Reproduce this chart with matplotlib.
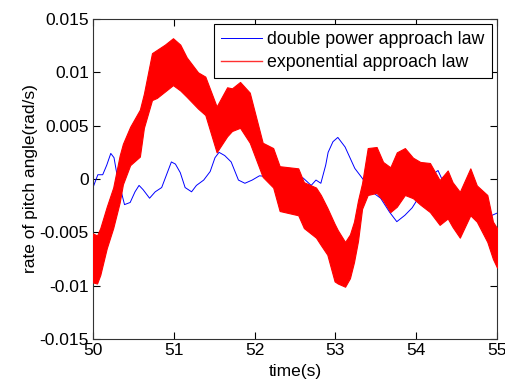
import matplotlib.pyplot as plt

plt.rcParams['font.family'] = ['Liberation Sans', 'DejaVu Sans']

# double power approach law (blue)
t_blue = [50.00, 50.06, 50.12, 50.17, 50.22, 50.26, 50.29, 50.35, 50.39, 50.46,
          50.52, 50.57, 50.62, 50.70, 50.77, 50.85, 50.91, 50.97, 51.02, 51.08,
          51.14, 51.22, 51.28, 51.37, 51.45, 51.51, 51.56, 51.63, 51.71, 51.80,
          51.88, 51.97, 52.06, 52.20, 52.40, 52.60, 52.70, 52.76, 52.82, 52.88,
          52.91, 52.97, 53.03, 53.12, 53.18, 53.24, 53.33, 53.47, 53.56, 53.67,
          53.76, 53.86, 53.95, 54.05, 54.20, 54.27, 54.33, 54.40, 54.50, 54.62,
          54.75, 54.88, 55.00]
blue = [-0.0008, 0.0004, 0.0004, 0.0013, 0.0024, 0.0020, 0.0007, -0.0012, -0.0024, -0.0022,
        -0.0012, -0.0006, -0.0010, -0.0018, -0.0012, -0.0008, 0.0004, 0.0016, 0.0014, 0.0006,
        -0.0008, -0.0012, -0.0006, -0.0001, 0.0007, 0.0020, 0.0025, 0.0022, 0.0016, -0.0001,
        -0.0004, -0.0001, 0.0003, 0.0002, -0.0001, 0.0001, -0.0006, -0.0001, -0.0004, 0.0013,
        0.0025, 0.0035, 0.0039, 0.0030, 0.0020, 0.0010, 0.0001, -0.0013, -0.0018, -0.0031,
        -0.0040, -0.0034, -0.0027, -0.0015, 0.0004, 0.0008, -0.0002, -0.0015, -0.0030, -0.0024,
        -0.0029, -0.0036, -0.0032]

# exponential approach law (red): envelope of the fast oscillation
t_red = [50.00, 50.05, 50.09, 50.17, 50.25, 50.33, 50.37, 50.46, 50.58, 50.63,
         50.73, 50.79, 50.89, 50.99, 51.08, 51.16, 51.30, 51.39, 51.53, 51.66,
         51.72, 51.82, 51.94, 52.10, 52.23, 52.31, 52.54, 52.61, 52.76, 52.82,
         52.90, 52.99, 53.03, 53.12, 53.18, 53.23, 53.28, 53.33, 53.40, 53.51,
         53.59, 53.68, 53.76, 53.86, 53.96, 54.05, 54.17, 54.29, 54.39, 54.45,
         54.54, 54.67, 54.75, 54.88, 54.95, 55.00]
red_upper = [-0.0051, -0.0053, -0.0046, -0.0026, -0.0008, 0.0022, 0.0033, 0.0049, 0.0065, 0.0080,
             0.0118, 0.0121, 0.0126, 0.0132, 0.0126, 0.0114, 0.0100, 0.0096, 0.0068, 0.0086,
             0.0085, 0.0091, 0.0081, 0.0034, 0.0029, 0.0012, 0.0010, -0.0003, -0.0008, -0.0015,
             -0.0027, -0.0042, -0.0048, -0.0059, -0.0052, -0.0040, -0.0020, -0.0004, 0.0029, 0.0030,
             0.0016, 0.0011, 0.0025, 0.0029, 0.0020, 0.0016, 0.0015, -0.0001, 0.0008, -0.0003,
             -0.0012, 0.0010, -0.0006, -0.0015, -0.0040, -0.0046]
red_lower = [-0.0097, -0.0098, -0.0090, -0.0065, -0.0046, -0.0022, -0.0005, 0.0013, 0.0021, 0.0048,
             0.0074, 0.0076, 0.0082, 0.0088, 0.0083, 0.0077, 0.0066, 0.0060, 0.0025, 0.0040,
             0.0045, 0.0048, 0.0034, 0.0002, -0.0008, -0.0030, -0.0034, -0.0046, -0.0055, -0.0062,
             -0.0071, -0.0096, -0.0098, -0.0101, -0.0093, -0.0078, -0.0058, -0.0028, -0.0015, -0.0013,
             -0.0020, -0.0031, -0.0026, -0.0015, -0.0018, -0.0024, -0.0031, -0.0043, -0.0037, -0.0045,
             -0.0055, -0.0034, -0.0040, -0.0059, -0.0075, -0.0083]

x_ticks = [50, 51, 52, 53, 54, 55]
y_ticks = [-0.015, -0.01, -0.005, 0, 0.005, 0.01, 0.015]
y_tick_labels = ['-0.015', '-0.01', '-0.005', '0', '0.005', '0.01', '0.015']

fig = plt.figure(figsize=(5.06, 3.85), dpi=100)
ax = fig.add_axes([0.1838, 0.1195, 0.7984, 0.8311])

ax.plot(t_blue, blue, color='#0000ff', linewidth=0.7, label='double power approach law')
ax.fill_between(t_red, red_lower, red_upper, color='#ff0000', linewidth=0.8, zorder=3)
# legend handle for the red band
ax.plot([], [], color='#ff3030', linewidth=1.0, label='exponential approach law')

ax.set_xlim(50, 55)
ax.set_ylim(-0.015, 0.015)
ax.set_xticks(x_ticks)
ax.set_yticks(y_ticks)
ax.set_yticklabels(y_tick_labels)
ax.tick_params(direction='in', top=True, right=True, length=5, labelsize=12.5, pad=3)
for s in ax.spines.values():
    s.set_linewidth(0.8)
    s.set_color('#333333')

ax.set_xlabel('time(s)', fontsize=12.5, labelpad=4)
ax.set_ylabel('rate of pitch angle(rad/s)', fontsize=12.5, labelpad=1)

leg = ax.legend(loc='upper right', fontsize=12.8, frameon=True, fancybox=False,
                edgecolor='black', framealpha=1, borderaxespad=0.3,
                handlelength=2.3, handletextpad=0.3, labelspacing=0.3, borderpad=0.4)
leg.get_frame().set_linewidth(0.8)

fig.savefig('out.png', dpi=100)
